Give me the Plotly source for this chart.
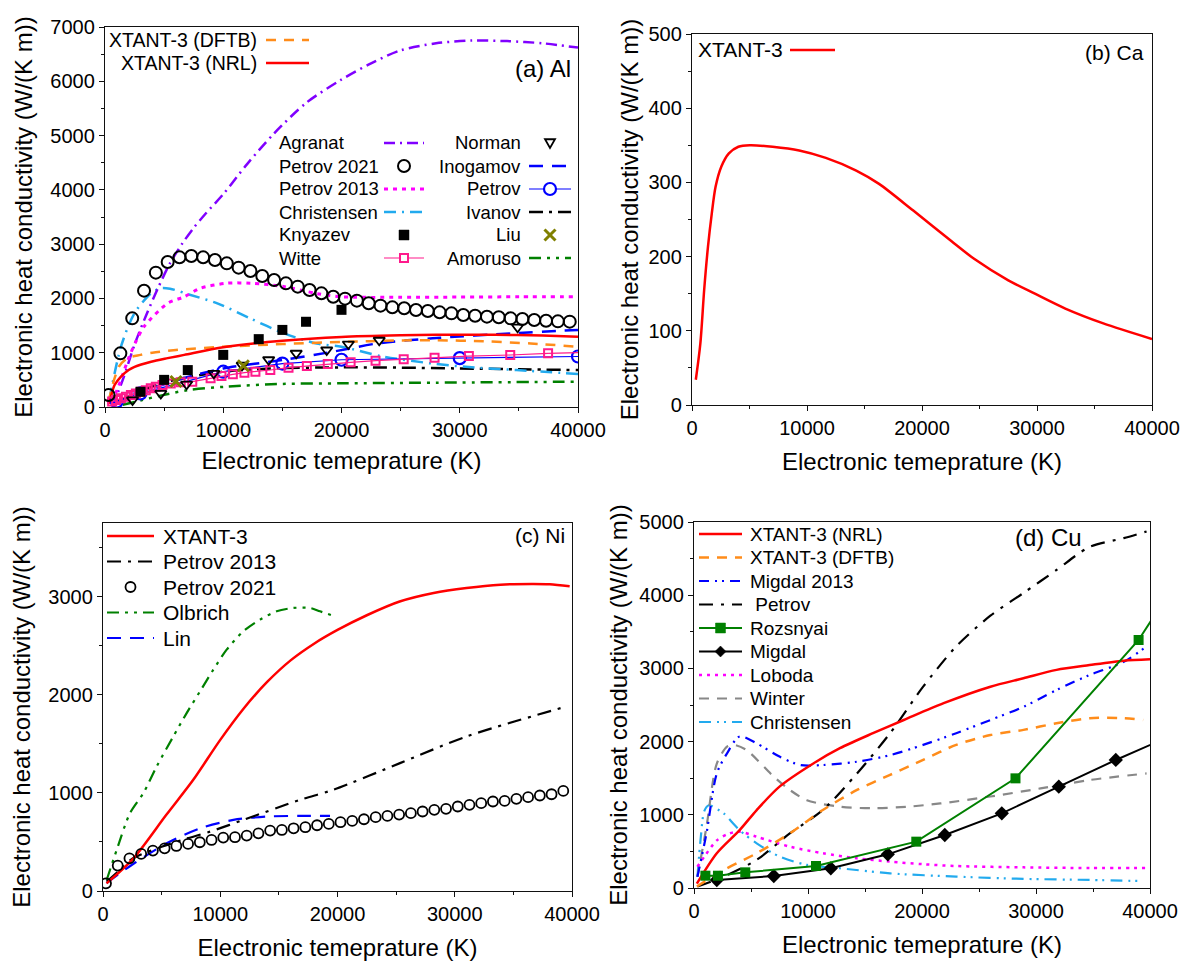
import plotly.graph_objects as go

FIG_W, FIG_H = 1186, 961
FONT = "Liberation Sans, Arial, Helvetica, sans-serif"

# ======================= DATA =======================
# ---- (a) Al ----
al_dftb_T = [300, 700, 1200, 1900, 3000, 4000, 6000, 10000, 15000, 20000, 25000, 28000, 32000, 36000, 40000]
al_dftb_K = [100, 450, 750, 900, 960, 1000, 1050, 1110, 1160, 1200, 1225, 1230, 1210, 1170, 1110]
al_nrl_T = [300, 500, 800, 1350, 2000, 2500, 3900, 5300, 6700, 10000, 15000, 20000, 25000, 28000, 33000, 37000, 40000]
al_nrl_K = [60, 190, 400, 560, 680, 740, 835, 900, 960, 1100, 1220, 1290, 1320, 1330, 1330, 1315, 1295]
al_agranat_T = [600, 1500, 2500, 3500, 4500, 5500, 6500, 7500, 8500, 10000, 12000, 14300, 17000, 19900, 22500, 25000, 28000, 31000, 34000, 37000, 40000]
al_agranat_K = [0, 500, 1150, 1700, 2200, 2650, 3000, 3300, 3560, 3920, 4470, 5040, 5600, 6020, 6330, 6570, 6700, 6750, 6740, 6700, 6620]
al_petrov2021_T = [300 + 1000 * i for i in range(40)]
al_petrov2021_K = [221, 988, 1633, 2143, 2475, 2671, 2757, 2782, 2757, 2708, 2646, 2567, 2505, 2413, 2339,
                   2278, 2217, 2155, 2094, 2032, 1996, 1959, 1910, 1867, 1836, 1818, 1787, 1768, 1744, 1725,
                   1695, 1682, 1664, 1652, 1633, 1621, 1603, 1590, 1578, 1572]
al_petrov2013_T = [500, 1000, 1500, 2000, 2600, 3300, 5300, 6700, 8100, 10300, 12300, 15100, 17900, 20000, 24900, 30000, 35000, 40000]
al_petrov2013_K = [100, 300, 600, 900, 1200, 1480, 1910, 2030, 2190, 2280, 2280, 2220, 2090, 2030, 2020, 2025, 2030, 2030]
al_christensen_T = [360, 1350, 2470, 3870, 4700, 5500, 7000, 9500, 12300, 15100, 17900, 20000, 23500, 27700, 30500, 34800, 40000]
al_christensen_K = [130, 1110, 1720, 2090, 2190, 2180, 2080, 1910, 1630, 1360, 1170, 1110, 930, 800, 740, 680, 610]
al_knyazev_T = [3000, 5000, 7000, 10000, 13000, 15000, 17000, 20000]
al_knyazev_K = [280, 500, 680, 960, 1250, 1420, 1570, 1790]
al_witte_T = [600, 930, 1350, 1770, 2190, 2610, 3030, 3450, 3870, 4300, 4860, 5560, 6400, 7380, 8930, 9850, 10810,
              11790, 12720, 13980, 15520, 17070, 18840, 20770, 22880, 25260, 27870, 30770, 34270, 37470]
al_witte_K = [100, 130, 160, 190, 220, 250, 280, 310, 345, 375, 405, 435, 455, 467, 528, 571, 602,
              633, 651, 682, 725, 755, 792, 823, 853, 878, 909, 939, 958, 989]
al_witte_end_T = [37470, 40000]
al_witte_end_K = [989, 1000]
al_norman_T = [2330, 4720, 6900, 9200, 11600, 13840, 16170, 18750, 20580, 23190, 34890]
al_norman_K = [130, 250, 420, 620, 770, 870, 990, 1050, 1160, 1230, 1470]
al_inogamov_T = [700, 1500, 3000, 5000, 7500, 10000, 15100, 19300, 23000, 27700, 34800, 40000]
al_inogamov_K = [60, 120, 260, 420, 580, 710, 870, 1020, 1170, 1265, 1360, 1420]
al_petrov_T = [1000, 3000, 10000, 15000, 20000, 30000, 40000]
al_petrov_K = [100, 250, 650, 800, 870, 900, 930]
al_ivanov_T = [1000, 3000, 5000, 7000, 10000, 14000, 20000, 25000, 30000, 35000, 40000]
al_ivanov_K = [100, 300, 450, 550, 650, 710, 730, 725, 710, 695, 680]
al_liu_T = [6000, 11700]
al_liu_K = [470, 760]
al_amoruso_T = [1500, 3000, 4700, 7000, 10300, 15000, 20000, 28000, 40000]
al_amoruso_K = [40, 120, 210, 310, 375, 425, 436, 448, 467]

# ---- (b) Ca ----
ca_T = [331, 727, 1058, 1388, 1719, 2050, 2545, 3207, 4033, 5025, 7008, 9322, 11636, 14281, 16264, 19240,
        22545, 24528, 27504, 29818, 32463, 35769, 40000]
ca_K = [34, 83, 155, 213, 258, 294, 321, 339, 348, 350, 348, 343, 333, 316, 298, 262,
        221, 197, 168, 150, 130, 110, 89]

# ---- (c) Ni ----
ni_xtant_T = [300, 2600, 5400, 7700, 10000, 12000, 14000, 16000, 18000, 20000, 22500, 25300, 28200, 31000, 33900, 36700, 38100, 39800]
ni_xtant_K = [78, 333, 776, 1133, 1540, 1860, 2130, 2350, 2520, 2660, 2810, 2950, 3037, 3088, 3122, 3129, 3125, 3105]
ni_petrov2013_T = [313, 1450, 2500, 5000, 7000, 9126, 11969, 16802, 19644, 25330, 31017, 39545]
ni_petrov2013_K = [95, 214, 330, 450, 530, 605, 724, 929, 1031, 1303, 1575, 1881]
ni_petrov2021_T = [256 + 1000 * i for i in range(40)]
ni_petrov2021_K = [78, 259, 333, 378, 412, 435, 459, 480, 497, 520, 544, 548, 565, 588, 616, 622, 639, 650, 670, 684,
                   701, 714, 731, 752, 765, 779, 793, 810, 827, 837, 861, 878, 895, 912, 918, 939, 956, 973, 986, 1020]
ni_olbrich_T = [313, 1166, 2303, 3440, 4577, 5998, 7135, 8272, 9410, 10547, 11969, 13390, 14812, 16233, 17655, 18508, 19787]
ni_olbrich_K = [112, 418, 793, 997, 1269, 1575, 1813, 2034, 2255, 2459, 2646, 2765, 2850, 2884, 2884, 2850, 2799]
ni_lin_T = [300, 2445, 5430, 8272, 11117, 13959, 16802, 19360]
ni_lin_K = [80, 265, 486, 639, 724, 759, 765, 765]

# ---- (d) Cu ----
cu_nrl_T = [250, 2000, 4000, 5500, 7500, 10500, 12800, 15700, 18400, 21900, 26000, 28900, 31800, 34700, 37700, 40000]
cu_nrl_K = [60, 475, 790, 1065, 1385, 1705, 1910, 2115, 2295, 2525, 2750, 2865, 2980, 3045, 3105, 3125]
cu_dftb_T = [250, 2600, 5500, 8400, 11300, 14300, 17200, 20100, 23000, 26000, 28900, 31800, 34700, 37700, 39400]
cu_dftb_K = [20, 245, 475, 745, 1065, 1340, 1545, 1750, 1955, 2090, 2160, 2250, 2320, 2320, 2295]
cu_migdal2013_T = [300, 1100, 2000, 2900, 4000, 5500, 7500, 9300, 11300, 14300, 17200, 20100, 23000, 26000, 28900, 31800, 34700, 37700, 39700]
cu_migdal2013_K = [155, 750, 1565, 1840, 2070, 1975, 1795, 1680, 1680, 1725, 1815, 1955, 2115, 2295, 2475, 2705, 2910, 3090, 3300]
cu_petrov_T = [300, 2600, 5500, 8400, 11300, 14300, 17200, 20100, 23000, 26000, 28900, 31800, 34700, 37700, 39700]
cu_petrov_K = [20, 155, 385, 745, 1065, 1565, 2115, 2750, 3300, 3720, 4030, 4345, 4660, 4780, 4870]
cu_rozsnyai_T = [1000, 2100, 4500, 10700, 19500, 28200, 39000, 44000]
cu_rozsnyai_K = [168, 168, 214, 301, 633, 1498, 3388, 4590]
cu_migdal_T = [2000, 7000, 12000, 17000, 22000, 27000, 32000, 37000, 42000]
cu_migdal_K = [109, 164, 269, 460, 724, 1020, 1384, 1749, 2090]
cu_loboda_T = [300, 1000, 2000, 3000, 4000, 5500, 8400, 11300, 14300, 17200, 20100, 23000, 28900, 34700, 40000]
cu_loboda_K = [290, 450, 650, 740, 770, 700, 565, 475, 405, 360, 325, 300, 282, 273, 273]
cu_winter_T = [300, 1100, 2000, 2900, 3500, 4600, 7000, 8400, 9900, 12800, 15700, 18700, 21600, 26000, 30400, 34700, 39700]
cu_winter_K = [155, 840, 1700, 1930, 1955, 1885, 1520, 1340, 1200, 1110, 1090, 1110, 1155, 1250, 1360, 1475, 1565]
cu_christensen_T = [300, 600, 900, 1300, 2000, 2600, 4000, 5500, 7500, 9900, 12800, 17200, 23000, 28900, 34700, 39400]
cu_christensen_K = [150, 700, 1050, 1130, 1080, 1020, 790, 610, 430, 315, 270, 200, 155, 125, 110, 95]

# tick / label text
X_TITLE = "Electronic temeprature (K)"
Y_TITLE = "Electronic heat conductivity (W/(K m))"

# ======================= STYLES =======================
RED, ORANGE = "#FF0000", "#FF8C1A"
S = {
    "nrl": dict(mode="lines", line=dict(color=RED, width=2.5)),
    "dftb": dict(mode="lines", line=dict(color=ORANGE, width=2.5, dash="10px,8px")),
    "agranat": dict(mode="lines", line=dict(color="#8000FF", width=2.5, dash="11px,5px,2px,5px")),
    "p2021": dict(mode="markers", marker=dict(symbol="circle-open", size=12, color="black", line=dict(width=2))),
    "p2013": dict(mode="lines", line=dict(color="#FF00FF", width=3, dash="4px,5px")),
    "christ": dict(mode="lines", line=dict(color="#22AAEE", width=2.5, dash="12px,6px,2px,6px")),
    "knyazev": dict(mode="markers", marker=dict(symbol="square", size=10, color="black")),
    "witte": dict(mode="lines+markers", line=dict(color="#FF1A8C", width=1.2),
                  marker=dict(symbol="square-open", size=8, color="#FF1A8C", line=dict(width=2))),
    "witte_end": dict(mode="lines", line=dict(color="#FF1A8C", width=1.2)),
    "norman": dict(mode="markers", marker=dict(symbol="triangle-down-open", size=10, color="black", line=dict(width=1.8))),
    "inogamov": dict(mode="lines", line=dict(color="#0000FF", width=2.5, dash="14px,9px")),
    "petrov_al": dict(mode="lines+markers", line=dict(color="#0000FF", width=1.2),
                      marker=dict(symbol="circle-open", size=12, color="#0000FF", line=dict(width=2.2))),
    "ivanov": dict(mode="lines", line=dict(color="black", width=2.5, dash="14px,6px,3px,6px")),
    "liu": dict(mode="markers", marker=dict(symbol="x-thin", size=11, color="#808000", line=dict(width=3, color="#808000"))),
    "amoruso": dict(mode="lines", line=dict(color="#008000", width=2.5, dash="12px,6px,3px,6px,3px,6px")),
    # (c)
    "ni_p2013": dict(mode="lines", line=dict(color="black", width=2.2, dash="14px,7px,3px,7px")),
    "ni_p2021": dict(mode="markers", marker=dict(symbol="circle-open", size=10, color="black", line=dict(width=1.8))),
    "olbrich": dict(mode="lines", line=dict(color="#008000", width=2.2, dash="12px,6px,3px,6px,3px,6px")),
    "lin": dict(mode="lines", line=dict(color="#0000FF", width=2.2, dash="14px,9px")),
    # (d)
    "migdal2013": dict(mode="lines", line=dict(color="#0000FF", width=2.2, dash="10px,6px,2px,5px,2px,6px")),
    "cu_petrov": dict(mode="lines", line=dict(color="black", width=2.2, dash="14px,8px,3px,8px")),
    "rozsnyai": dict(mode="lines+markers", line=dict(color="#008000", width=2),
                     marker=dict(symbol="square", size=10, color="#008000")),
    "migdal": dict(mode="lines+markers", line=dict(color="black", width=2),
                   marker=dict(symbol="diamond", size=11, color="black")),
    "loboda": dict(mode="lines", line=dict(color="#FF00FF", width=2.5, dash="3px,5px")),
    "winter": dict(mode="lines", line=dict(color="#888888", width=2.2, dash="10px,8px")),
    "cu_christ": dict(mode="lines", line=dict(color="#22AAEE", width=2.2, dash="12px,6px,2px,5px,2px,6px")),
}

fig = go.Figure()


def add(T, K, style, name, ax):
    kw = dict(S[style])
    if kw["mode"] == "lines":
        kw["line"] = dict(kw["line"], shape="spline", smoothing=0.8)
    fig.add_trace(go.Scatter(x=T, y=K, name=name, showlegend=False, cliponaxis=True,
                             xaxis="x" + ax, yaxis="y" + ax, **kw))


# (a)
add(al_amoruso_T, al_amoruso_K, "amoruso", "Amoruso", "")
add(al_ivanov_T, al_ivanov_K, "ivanov", "Ivanov", "")
add(al_christensen_T, al_christensen_K, "christ", "Christensen", "")
add(al_agranat_T, al_agranat_K, "agranat", "Agranat", "")
add(al_petrov2013_T, al_petrov2013_K, "p2013", "Petrov 2013", "")
add(al_inogamov_T, al_inogamov_K, "inogamov", "Inogamov", "")
add(al_dftb_T, al_dftb_K, "dftb", "XTANT-3 (DFTB)", "")
add(al_nrl_T, al_nrl_K, "nrl", "XTANT-3 (NRL)", "")
add(al_petrov_T, al_petrov_K, "petrov_al", "Petrov", "")
add(al_witte_end_T, al_witte_end_K, "witte_end", "Witte", "")
add(al_witte_T, al_witte_K, "witte", "Witte", "")
add(al_knyazev_T, al_knyazev_K, "knyazev", "Knyazev", "")
add(al_norman_T, al_norman_K, "norman", "Norman", "")
add(al_liu_T, al_liu_K, "liu", "Liu", "")
add(al_petrov2021_T, al_petrov2021_K, "p2021", "Petrov 2021", "")
# (b)
add(ca_T, ca_K, "nrl", "XTANT-3", "2")
# (c)
add(ni_olbrich_T, ni_olbrich_K, "olbrich", "Olbrich", "3")
add(ni_lin_T, ni_lin_K, "lin", "Lin", "3")
add(ni_petrov2013_T, ni_petrov2013_K, "ni_p2013", "Petrov 2013", "3")
add(ni_xtant_T, ni_xtant_K, "nrl", "XTANT-3", "3")
add(ni_petrov2021_T, ni_petrov2021_K, "ni_p2021", "Petrov 2021", "3")
# (d)
add(cu_christensen_T, cu_christensen_K, "cu_christ", "Christensen", "4")
add(cu_winter_T, cu_winter_K, "winter", "Winter", "4")
add(cu_loboda_T, cu_loboda_K, "loboda", "Loboda", "4")
add(cu_migdal2013_T, cu_migdal2013_K, "migdal2013", "Migdal 2013", "4")
add(cu_petrov_T, cu_petrov_K, "cu_petrov", "Petrov", "4")
add(cu_dftb_T, cu_dftb_K, "dftb", "XTANT-3 (DFTB)", "4")
add(cu_nrl_T, cu_nrl_K, "nrl", "XTANT-3 (NRL)", "4")
add(cu_migdal_T, cu_migdal_K, "migdal", "Migdal", "4")
add(cu_rozsnyai_T, cu_rozsnyai_K, "rozsnyai", "Rozsnyai", "4")

# ======================= LAYOUT =======================
# panel frames in pixels: left, right, top, bottom
FRAMES = {
    "": (105, 578, 27, 407),
    "2": (692, 1152, 34, 405),
    "3": (103, 572, 523, 891),
    "4": (694, 1150, 522, 888),
}
YRANGE = {"": (0, 7000, 1000, 500), "2": (0, 500, 100, 50), "3": (0, 3750, 1000, 500), "4": (0, 5000, 1000, 500)}
X_STANDOFF = {"": 12, "2": 15, "3": 15, "4": 15}
Y_STANDOFF = {"": 10, "2": 3, "3": 10, "4": 4}

axis_common = dict(showline=True, linecolor="#111111", linewidth=1.3, mirror=True, ticks="outside",
                   ticklen=5, tickwidth=1.3, tickcolor="#111111", showgrid=False, zeroline=False,
                   automargin=False, tickformat="d", tickfont=dict(family=FONT, size=20, color="black"))

layout = dict(width=FIG_W, height=FIG_H, margin=dict(l=0, r=0, t=0, b=0, pad=0), autosize=False,
              paper_bgcolor="white", plot_bgcolor="white", font=dict(family=FONT, color="black"))

for ax, (l, r, t, b) in FRAMES.items():
    y0, y1, dy, mdy = YRANGE[ax]
    layout["xaxis" + ax] = dict(axis_common, domain=[l / FIG_W, r / FIG_W], anchor="y" + ax,
                                range=[0, 40000], tick0=0, dtick=10000,
                                minor=dict(dtick=5000, ticks="outside", ticklen=3, tickwidth=1.3, tickcolor="#111111"),
                                title=dict(text=X_TITLE, font=dict(family=FONT, size=24, color="black"),
                                           standoff=X_STANDOFF[ax]))
    layout["yaxis" + ax] = dict(axis_common, domain=[1 - b / FIG_H, 1 - t / FIG_H], anchor="x" + ax,
                                range=[y0, y1], tick0=0, dtick=dy,
                                minor=dict(dtick=mdy, ticks="outside", ticklen=3, tickwidth=1.3, tickcolor="#111111"),
                                title=dict(text=Y_TITLE, font=dict(family=FONT, size=24, color="black"),
                                           standoff=Y_STANDOFF[ax]))

shapes, annotations = [], []


def PX(x):
    return x / FIG_W


def PY(y):
    return 1 - y / FIG_H


def text(x, y, s, size, anchor):
    annotations.append(dict(x=PX(x), y=PY(y), xref="paper", yref="paper", text=s, showarrow=False,
                            xanchor=anchor, yanchor="middle", font=dict(family=FONT, size=size, color="black")))


def sample_line(x0, x1, y, style):
    ln = S[style]["line"]
    shapes.append(dict(type="line", xref="paper", yref="paper", x0=PX(x0), x1=PX(x1), y0=PY(y), y1=PY(y),
                       line=dict(color=ln["color"], width=ln["width"], dash=ln.get("dash", "solid"))))


def sample_marker(cx, cy, style):
    m = S[style]["marker"]
    sym, size = m["symbol"], m["size"]
    color = m.get("color", "black")
    lw = m.get("line", {}).get("width", 1.5)
    r = size / 2
    filled = not sym.endswith("open")
    fill = color if filled else "white"
    base = dict(xref="paper", yref="paper", line=dict(color=color, width=lw if not filled else 0.5), fillcolor=fill)
    if sym.startswith("circle"):
        shapes.append(dict(base, type="circle", x0=PX(cx - r), x1=PX(cx + r), y0=PY(cy + r), y1=PY(cy - r)))
    elif sym.startswith("square"):
        shapes.append(dict(base, type="rect", x0=PX(cx - r), x1=PX(cx + r), y0=PY(cy + r), y1=PY(cy - r)))
    elif sym.startswith("triangle-down"):
        p = f"M {PX(cx - r)},{PY(cy - r * 0.75)} L {PX(cx + r)},{PY(cy - r * 0.75)} L {PX(cx)},{PY(cy + r)} Z"
        shapes.append(dict(base, type="path", path=p))
    elif sym.startswith("diamond"):
        p = f"M {PX(cx)},{PY(cy - r)} L {PX(cx + r)},{PY(cy)} L {PX(cx)},{PY(cy + r)} L {PX(cx - r)},{PY(cy)} Z"
        shapes.append(dict(base, type="path", path=p))
    elif sym.startswith("x"):
        for (a, b2, c, d) in [(-r, -r, r, r), (-r, r, r, -r)]:
            shapes.append(dict(type="line", xref="paper", yref="paper", x0=PX(cx + a), y0=PY(cy + b2),
                               x1=PX(cx + c), y1=PY(cy + d), line=dict(color=color, width=3)))


def sample(x0, x1, y, style):
    st = S[style]
    if "lines" in st["mode"]:
        sample_line(x0, x1, y, style)
    if "markers" in st["mode"]:
        sample_marker((x0 + x1) / 2, y, style)


# (a) legends
for i, (name, st) in enumerate([("XTANT-3 (DFTB)", "dftb"), ("XTANT-3 (NRL)", "nrl")]):
    y = 40 + 23 * i
    text(259, y, name, 19.5, "right")
    sample(266, 309, y, st)
col1 = [("Agranat", "agranat"), ("Petrov 2021", "p2021"), ("Petrov 2013", "p2013"),
        ("Christensen", "christ"), ("Knyazev", "knyazev"), ("Witte", "witte")]
col2 = [("Norman", "norman"), ("Inogamov", "inogamov"), ("Petrov", "petrov_al"),
        ("Ivanov", "ivanov"), ("Liu", "liu"), ("Amoruso", "amoruso")]
for i, (name, st) in enumerate(col1):
    y = 143 + 23 * i
    text(277, y, name, 18.5, "left")
    sample(384, 424, y, st)
for i, (name, st) in enumerate(col2):
    y = 143 + 23 * i
    text(523, y, name, 18.5, "right")
    sample(529, 571, y, st)
text(573, 68, "(a) Al", 24, "right")

# (b)
text(696, 50, "XTANT-3", 21, "left")
sample(790, 835, 50, "nrl")
text(1146, 52, "(b) Ca", 21, "right")

# (c)
for i, (name, st) in enumerate([("XTANT-3", "nrl"), ("Petrov 2013", "ni_p2013"), ("Petrov 2021", "ni_p2021"),
                                ("Olbrich", "olbrich"), ("Lin", "lin")]):
    y = 536 + 25.5 * i
    text(161, y, name, 21, "left")
    sample(107, 154, y, st)
text(567, 535, "(c) Ni", 21, "right")

# (d)
d_entries = [("XTANT-3 (NRL)", "nrl"), ("XTANT-3 (DFTB)", "dftb"), ("Migdal 2013", "migdal2013"),
             (" Petrov", "cu_petrov"), ("Rozsnyai", "rozsnyai"), ("Migdal", "migdal"), ("Loboda", "loboda"),
             ("Winter", "winter"), ("Christensen", "cu_christ")]
for i, (name, st) in enumerate(d_entries):
    y = 534 + 23.5 * i
    text(748, y, name, 19, "left")
    sample(699, 742, y, st)
text(1084, 537, "(d) Cu", 24, "right")

layout["shapes"] = shapes
layout["annotations"] = annotations
fig.update_layout(**layout)
fig.write_html("out.html")
